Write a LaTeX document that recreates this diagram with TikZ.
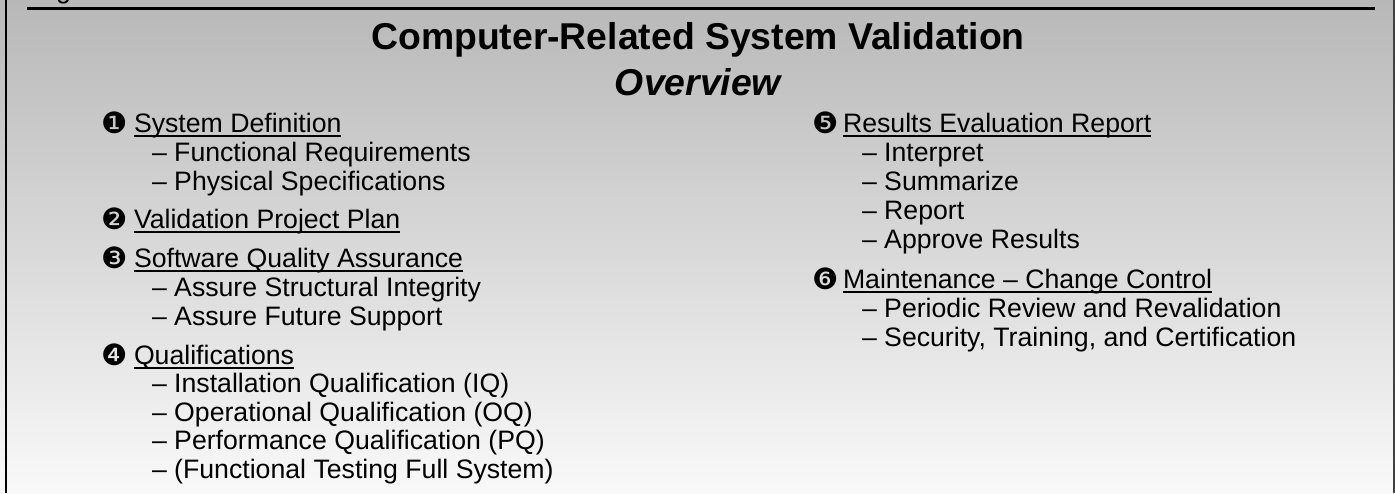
\documentclass[tikz,border=0pt]{standalone}
\usepackage{fontspec}
\setmainfont{Liberation Sans}
\newfontfamily\dingfont{DejaVu Sans}

\definecolor{bgtop}{HTML}{B8B8B8}
\definecolor{bgbottom}{HTML}{F9F9F9}
\definecolor{edgegray}{HTML}{404040}

\tikzset{
  txt/.style={anchor=base west,inner sep=0pt,outer sep=0pt,
    font=\fontsize{20}{24}\selectfont},
  headtxt/.style={txt},
  subtxt/.style={txt},
  bul/.style={anchor=center,inner sep=0pt,outer sep=0pt,
    font=\dingfont\fontsize{22}{22}\selectfont},
  uline/.style={line width=1.5pt},
  titletxt/.style={anchor=base,inner sep=0pt,outer sep=0pt,
    font=\bfseries\fontsize{28}{32}\selectfont}
}

% underline a heading node
\newcommand{\headrule}[1]{%
  \draw[uline] ([yshift=-3pt]#1.base west) -- ([yshift=-3pt]#1.base east);}

\begin{document}
\begin{tikzpicture}[x=0.75pt,y=-0.75pt]
  \useasboundingbox (0,0) rectangle (1395,493);
  % backdrop and frame
  \shade[top color=bgtop,bottom color=bgbottom] (0,0) rectangle (1395,493);
  \node[txt] (fig) at (34,-1.5) {Figure};
  \draw[line width=1.9pt] (6,0) -- (6,493);
  \draw[line width=2.25pt] (27,8.5) -- (1375,8.5);
  \draw[edgegray,line width=1.5pt] (1394.2,0) -- (1394.2,493);

  % title
  \node[titletxt] (title) at (698,49) {Computer-Related System Validation};
  \node[titletxt,font=\bfseries\itshape\fontsize{28}{32}\selectfont] (subtitle) at (698,95) {Overview};

  % left column
  \node[bul] (b1) at (114.5,123) {❶};
  \node[headtxt] (h1) at (134,132) {System Definition}; \headrule{h1}
  \node[subtxt] (s11) at (152,161) {– Functional Requirements};
  \node[subtxt] (s12) at (152,190) {– Physical Specifications};

  \node[bul] (b2) at (114.5,219) {❷};
  \node[headtxt] (h2) at (134,228) {Validation Project Plan}; \headrule{h2}

  \node[bul] (b3) at (114.5,258) {❸};
  \node[headtxt] (h3) at (134,267) {Software Quality Assurance}; \headrule{h3}
  \node[subtxt] (s31) at (152,296) {– Assure Structural Integrity};
  \node[subtxt] (s32) at (152,325) {– Assure Future Support};

  \node[bul] (b4) at (114.5,355) {❹};
  \node[headtxt] (h4) at (134,364) {Qualifications}; \headrule{h4}
  \node[subtxt] (s41) at (152,392.5) {– Installation Qualification (IQ)};
  \node[subtxt] (s42) at (152,421) {– Operational Qualification (OQ)};
  \node[subtxt] (s43) at (152,449.5) {– Performance Qualification (PQ)};
  \node[subtxt] (s44) at (152,478) {– (Functional Testing Full System)};

  % right column
  \node[bul] (b5) at (825.5,123) {❺};
  \node[headtxt] (h5) at (843,132) {Results Evaluation Report}; \headrule{h5}
  \node[subtxt] (s51) at (862,161) {– Interpret};
  \node[subtxt] (s52) at (862,190) {– Summarize};
  \node[subtxt] (s53) at (862,219) {– Report};
  \node[subtxt] (s54) at (862,248) {– Approve Results};

  \node[bul] (b6) at (825.5,279) {❻};
  \node[headtxt] (h6) at (843,288) {Maintenance – Change Control}; \headrule{h6}
  \node[subtxt] (s61) at (862,317) {– Periodic Review and Revalidation};
  \node[subtxt] (s62) at (862,346) {– Security, Training, and Certification};
\end{tikzpicture}
\end{document}
